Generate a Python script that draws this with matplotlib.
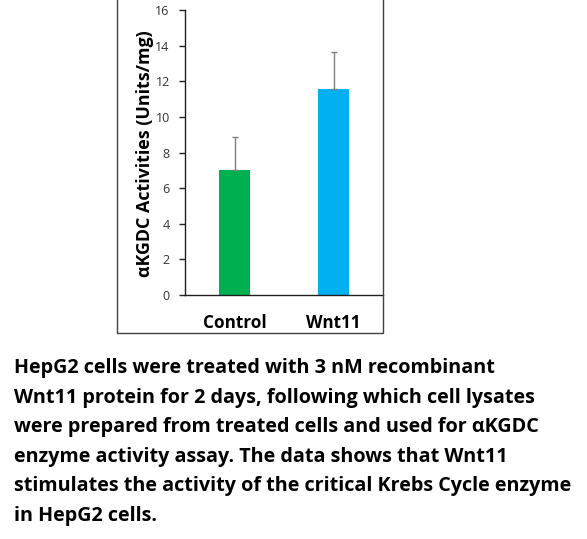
import matplotlib
matplotlib.use("Agg")
import matplotlib.pyplot as plt
from matplotlib.patches import Rectangle

categories = ["Control", "Wnt11"]
values = [7.02, 11.57]
errors = [1.83, 2.05]
bar_colors = ["#00B050", "#00B0F0"]
yticks = [0, 2, 4, 6, 8, 10, 12, 14, 16]
ylabel = "\u03b1KGDC Activities (Units/mg)"
caption = [
    "HepG2 cells were treated with 3 nM recombinant",
    "Wnt11 protein for 2 days, following which cell lysates",
    "were prepared from treated cells and used for \u03b1KGDC",
    "enzyme activity assay. The data shows that Wnt11",
    "stimulates the activity of the critical Krebs Cycle enzyme",
    "in HepG2 cells.",
]

W, H = 587, 539
fig = plt.figure(figsize=(W / 100, H / 100), dpi=100)
font = ["Open Sans", "DejaVu Sans"]
renderer = fig.canvas.get_renderer()


def fit_size(text, target_px, weight="bold"):
    t = fig.text(0, 0, text, fontsize=10, fontweight=weight, family=font)
    w = t.get_window_extent(renderer).width
    t.remove()
    return 10 * target_px / w


cap_size = fit_size(caption[4], 559)
ylab_size = fit_size(ylabel, 248)
xt_size = fit_size("Control", 64)

# outer box
fig.add_artist(Rectangle((117 / W, 1 - 333 / H), (383 - 117) / W, 333 / H + 0.01,
                         transform=fig.transFigure, fill=False, edgecolor="#404040", lw=1.0))

ax = fig.add_axes([185 / W, 1 - 295 / H, (383 - 185) / W, (295 - 10) / H])
x = [0, 1]
ax.bar(x, values, width=0.31, color=bar_colors, zorder=2)
ax.errorbar(x, values, yerr=[[0, 0], errors], fmt="none", ecolor="#7f7f7f",
            elinewidth=1.0, capsize=2.5, capthick=1.0, zorder=3)
ax.set_xlim(-0.5, 1.5)
ax.set_ylim(0, 16)
ax.set_yticks(yticks)
ax.set_yticklabels([str(t) for t in yticks], fontsize=9, color="#333333", family=font)
ax.set_xticks(x)
ax.set_xticklabels(categories, fontsize=xt_size, fontweight="bold", family=font)
ax.tick_params(axis="x", length=0, pad=14)
ax.tick_params(axis="y", direction="out", length=4, width=1, color="#202020", pad=7)
ax.spines["top"].set_visible(False)
ax.spines["right"].set_visible(False)
for s in ("left", "bottom"):
    ax.spines[s].set_linewidth(1.0)
    ax.spines[s].set_color("#202020")
ax.patch.set_alpha(0)

fig.text(145 / W, 1 - 154 / H, ylabel, rotation=90, ha="center", va="center",
         fontsize=ylab_size, fontweight="bold", family=font)

y0 = 368
for i, line in enumerate(caption):
    fig.text(14 / W, 1 - (y0 + i * 29.6) / H, line, ha="left", va="center",
             fontsize=cap_size, fontweight="bold", family=font)

fig.savefig("out.png", dpi=100, facecolor="white")
